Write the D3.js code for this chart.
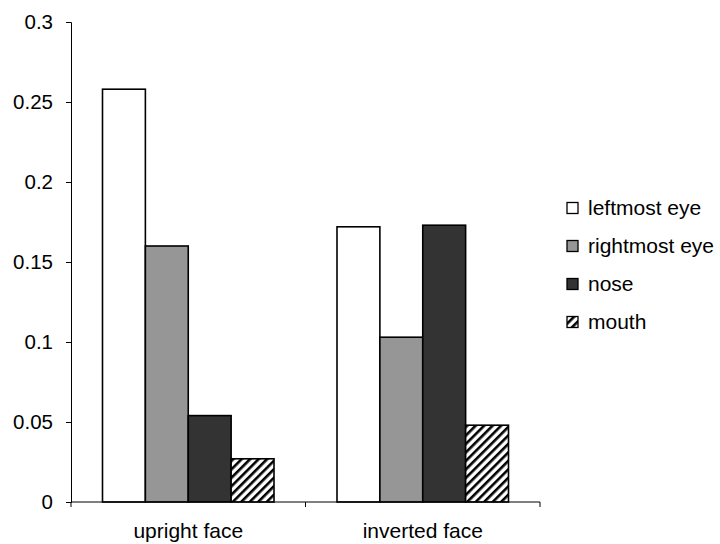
<!DOCTYPE html>
<html><head><meta charset="utf-8">
<script src="https://cdn.jsdelivr.net/npm/d3@7"></script>
<style>body{margin:0;background:#fff}svg{display:block}text{font-family:"Liberation Sans",Arial,sans-serif}</style>
</head><body>
<script>
const categories = ["upright face", "inverted face"];
const seriesNames = ["leftmost eye", "rightmost eye", "nose", "mouth"];
const leftmostEye = [0.258, 0.172];
const rightmostEye = [0.160, 0.103];
const nose = [0.054, 0.173];
const mouth = [0.027, 0.048];
const yTicks = [0, 0.05, 0.1, 0.15, 0.2, 0.25, 0.3];
const yTickLabels = ["0", "0.05", "0.1", "0.15", "0.2", "0.25", "0.3"];

const seriesValues = [leftmostEye, rightmostEye, nose, mouth];
const fills = ["#ffffff", "#969696", "#333333", "url(#hatch)"];

const W = 720, H = 544;
const svg = d3.select("body").append("svg").attr("width", W).attr("height", H);
const defs = svg.append("defs");
const pat = defs.append("pattern").attr("id", "hatch").attr("patternUnits", "userSpaceOnUse")
  .attr("width", 6).attr("height", 6).attr("patternTransform", "rotate(45)");
pat.append("rect").attr("width", 6).attr("height", 6).attr("fill", "#fff");
pat.append("rect").attr("x", 0).attr("width", 2.6).attr("height", 6).attr("fill", "#000");

const x0 = d3.scaleBand().domain(categories).range([71, 540]).padding(0);
const x1 = d3.scaleBand().domain(seriesNames).range([31.5, x0.bandwidth() - 31.5]).padding(0);
const y = d3.scaleLinear().domain([0, 0.3]).range([502, 22]);

// bars
const groups = svg.append("g").selectAll("g").data(categories).join("g")
  .attr("transform", d => `translate(${x0(d)},0)`);
groups.selectAll("rect").data((c, ci) => seriesNames.map((s, si) => ({s, si, v: seriesValues[si][ci]})))
  .join("rect")
  .attr("x", d => x1(d.s)).attr("width", x1.bandwidth())
  .attr("y", d => y(d.v)).attr("height", d => y(0) - y(d.v))
  .attr("fill", d => fills[d.si]).attr("stroke", "#000").attr("stroke-width", 1.6);

// y axis
const yAxis = d3.axisLeft(y).tickValues(yTicks).tickFormat((d, i) => yTickLabels[i]).tickSize(5).tickPadding(13);
const gy = svg.append("g").attr("transform", "translate(71,0)").call(yAxis);
gy.select(".domain").attr("stroke", "#000");
gy.selectAll("line").attr("stroke", "#000");
gy.selectAll("text").attr("font-size", 20.5).attr("fill", "#000").attr("font-family", "Liberation Sans, Arial, sans-serif");

// x axis
const xAxisG = svg.append("g").attr("transform", `translate(0,${y(0)})`);
xAxisG.append("line").attr("x1", 71).attr("x2", 540).attr("stroke", "#000");
const boundaries = [x0.range()[0]].concat(categories.map(c => x0(c) + x0.bandwidth()));
xAxisG.selectAll("line.tk").data(boundaries).join("line").attr("class", "tk")
  .attr("x1", d => d).attr("x2", d => d).attr("y1", 0).attr("y2", 5).attr("stroke", "#000");
xAxisG.selectAll("text").data(categories).join("text")
  .attr("x", d => x0(d) + x0.bandwidth() / 2).attr("y", 36)
  .attr("text-anchor", "middle").attr("font-size", 21).attr("fill", "#000").text(d => d);

// legend
const leg = svg.append("g").selectAll("g").data(seriesNames).join("g")
  .attr("transform", (d, i) => `translate(567,${208 + i * 38})`);
leg.append("rect").attr("x", 0).attr("y", -5.5).attr("width", 11).attr("height", 11)
  .attr("fill", (d, i) => fills[i]).attr("stroke", "#000").attr("stroke-width", 1.3);
leg.append("text").attr("x", 21).attr("y", 0).attr("dy", "0.35em").attr("font-size", 21).attr("fill", "#000").text(d => d);
</script>
</body></html>
